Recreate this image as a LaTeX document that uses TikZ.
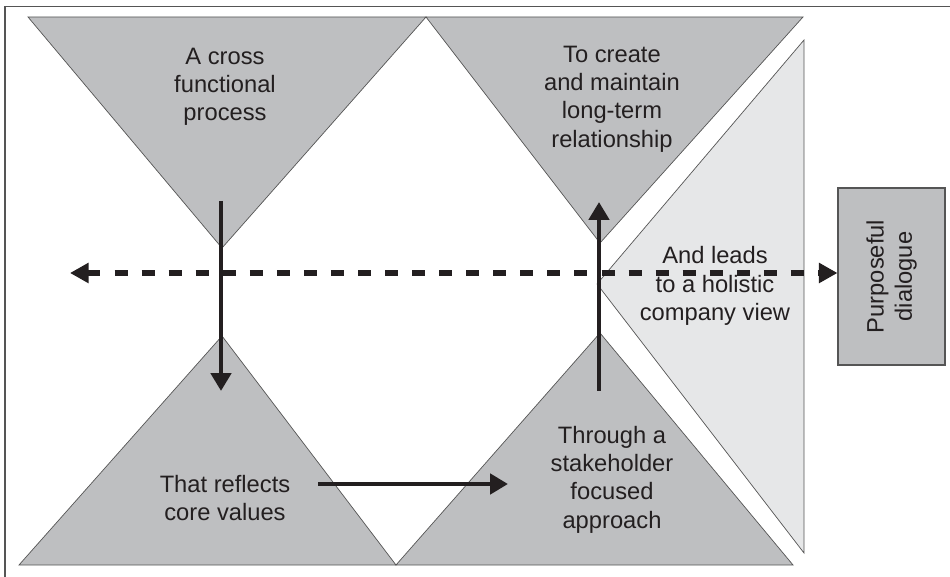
\documentclass[tikz,border=0pt]{standalone}
\usepackage{fontspec}
\setmainfont{Liberation Sans}
\usepackage{tikz}
\usetikzlibrary{arrows.meta, positioning, calc}
\definecolor{coneGrey}{RGB}{190, 191, 193}
\definecolor{paleGrey}{RGB}{230, 231, 232}
\definecolor{inkBlack}{RGB}{35, 31, 32}
\definecolor{edgeGrey}{RGB}{85, 85, 85}

\begin{document}
\begin{tikzpicture}[x=0.02cm, y=-0.02cm,
  cone/.style={fill=coneGrey, draw=edgeGrey, line width=0.4pt},
  pale/.style={fill=paleGrey, draw=edgeGrey, line width=0.4pt},
  conetext/.style={font=\fontsize{13.5}{16.1}\selectfont, text=inkBlack, align=center, inner sep=0pt},
  flow/.style={line width=2.8pt, draw=inkBlack, -{Triangle[width=11.4pt, length=10.2pt]}},
  dashflow/.style={line width=3.2pt, draw=inkBlack, dash pattern=on 7.4pt off 8pt,
    {Triangle[width=11pt, length=10.6pt]}-{Triangle[width=11pt, length=10.6pt]}},
  dlgbox/.style={conetext, fill=coneGrey, draw=edgeGrey, line width=0.6pt, rotate=90,
    minimum width=3.54cm, minimum height=2.14cm}]
  \useasboundingbox (0, 0) rectangle (950, 577);
  % open frame
  \draw[edgeGrey, line width=0.8pt] (5, 577) -- (5, 6.5) -- (950, 6.5);
  % the four cones and the pale wedge
  \draw[cone] (28, 17) -- (426, 17) -- (222, 248) -- cycle;
  \draw[cone] (426, 17) -- (803, 17) -- (600, 243) -- cycle;
  \draw[cone] (19, 565) -- (396, 565) -- (222, 336) -- cycle;
  \draw[cone] (396, 565) -- (793, 565) -- (600, 333) -- cycle;
  \draw[pale] (804, 40) -- (804, 553) -- (597, 284) -- cycle;
  % texts
  \node[conetext] (crossfn) at (225, 87) {A cross\\functional\\process};
  \node[conetext] (longterm) at (612, 99) {To create\\and maintain\\long-term\\relationship};
  \node[conetext] (holistic) at (715, 286) {And leads\\to a holistic\\company view};
  \node[conetext] (corevals) at (225, 498) {That reflects\\core values};
  \node[conetext] (stakeh) at (612, 479.5) {Through a\\stakeholder\\focused\\approach};
  \node[dlgbox] (dialogue) at (891.5, 276.5) {Purposeful\\dialogue};
  % arrow ends
  \coordinate (dashL) at (70, 273);
  \coordinate (downS) at (221, 201);
  \coordinate (downE) at (221, 391);
  \coordinate (upS) at (599, 391);
  \coordinate (upE) at (599, 202);
  \coordinate (rightS) at (318, 484);
  \coordinate (rightE) at (508, 484);
  % arrows
  \draw[dashflow] (dashL) -- (dashL -| dialogue.north);
  \draw[flow] (downS) -- (downE);
  \draw[flow] (upS) -- (upE);
  \draw[flow] (rightS) -- (rightE);
\end{tikzpicture}
\end{document}
